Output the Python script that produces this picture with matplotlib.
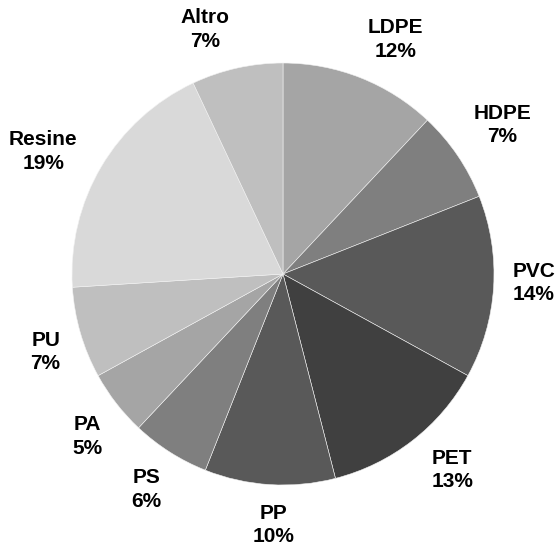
import matplotlib
matplotlib.use("Agg")
import matplotlib.pyplot as plt
import numpy as np

# Plastic types and their share of the total (%), clockwise from 12 o'clock
materials = ["LDPE", "HDPE", "PVC", "PET", "PP", "PS", "PA", "PU", "Resine", "Altro"]
shares = [12, 7, 14, 13, 10, 6, 5, 7, 19, 7]
greys = ["#a5a5a5", "#7f7f7f", "#595959", "#404040", "#595959",
         "#7f7f7f", "#a5a5a5", "#bfbfbf", "#d9d9d9", "#bfbfbf"]

# small angular nudges (degrees, clockwise) so labels clear their neighbours
label_nudge = {"LDPE": 4, "PVC": -1.5, "PET": -3, "PP": -1.5, "PA": -2,
               "PU": -2, "Resine": -3.5, "Altro": -5}

W, H = 560, 542
fig = plt.figure(figsize=(W / 100, H / 100), dpi=100)
cx, cy, r = 283, 274, 211
ax = fig.add_axes([(cx - r) / W, (H - cy - r) / H, 2 * r / W, 2 * r / H])

wedges, _ = ax.pie(
    shares,
    colors=greys,
    startangle=90,
    counterclock=False,
    radius=1.0,
    wedgeprops=dict(edgecolor="#f2f2f2", linewidth=0.4),
)
ax.set_xlim(-1, 1)
ax.set_ylim(-1, 1)
ax.set_aspect("equal")
ax.axis("off")

# Labels sit just outside the rim: the label box is pushed out along the
# wedge's mid-angle so that its nearest side keeps a fixed gap to the pie.
gap_px = 18
renderer = fig.canvas.get_renderer()
for w, name, val in zip(wedges, materials, shares):
    mid = (w.theta1 + w.theta2) / 2 - label_nudge.get(name, 0)
    ang = np.deg2rad(mid)
    ux, uy = np.cos(ang), np.sin(ang)
    t = ax.text(0, 0, f"{name}\n{val}%", ha="center", va="center",
                fontsize=15, fontweight="bold", family="Liberation Sans",
                color="black", linespacing=1.3, clip_on=False)
    bb = t.get_window_extent(renderer)
    hw, hh = bb.width / 2, bb.height / 2
    d_px = r + gap_px + abs(ux) * hw + abs(uy) * hh
    d = d_px / r
    t.set_position((d * ux, d * uy))

fig.savefig("out.png", dpi=100, facecolor="white")
